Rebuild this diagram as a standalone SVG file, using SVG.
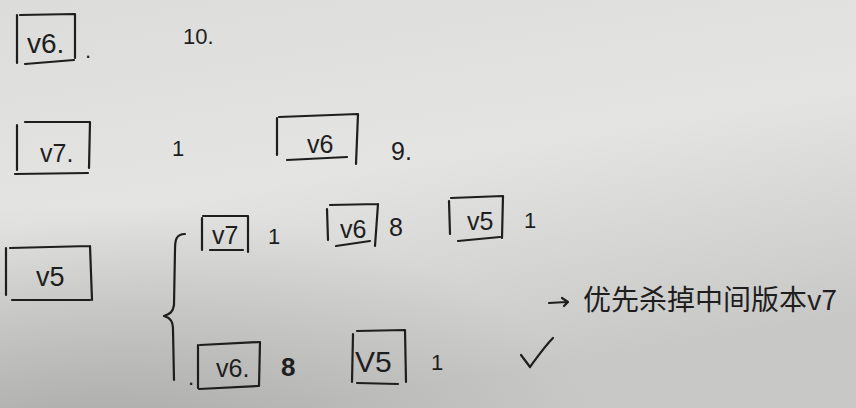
<svg xmlns="http://www.w3.org/2000/svg" width="856" height="408" viewBox="0 0 856 408">
<defs>
<linearGradient id="bg" x1="0" y1="0" x2="0.35" y2="1">
<stop offset="0" stop-color="#dcdcda"/>
<stop offset="0.5" stop-color="#e4e4e2"/>
<stop offset="1" stop-color="#c8c8c6"/>
</linearGradient>
<radialGradient id="shade" cx="0.1" cy="1.1" r="0.6">
<stop offset="0" stop-color="#8a8a88" stop-opacity="0.5"/>
<stop offset="1" stop-color="#8a8a88" stop-opacity="0"/>
</radialGradient>
</defs>
<style>
.ink{fill:none;stroke:#1e1e1e;stroke-width:2.2;stroke-linecap:round;stroke-linejoin:round}
.t{font-family:"Liberation Sans","Noto Sans CJK SC",sans-serif;fill:#1e1e1e}
.lbl{font-size:25px}
.num{font-size:22px}
.cn{font-family:"Noto Sans CJK SC",sans-serif;font-size:28px;fill:#1e1e1e}
</style>
<rect width="856" height="408" fill="url(#bg)"/>
<rect width="856" height="408" fill="url(#shade)"/>

<g id="node-v6-top">
<path class="ink" d="M17 15 L17 63 M20 15 L75 14 M75 14 L75 58 M25 64 L74 60"/>
<text class="t" x="27" y="53" style="font-size:28px">v6.</text>
<text class="t num" x="85" y="58">.</text>
<text class="t num" x="183" y="44">10.</text>
</g>

<g id="node-v7">
<path class="ink" d="M17 125 L17 170 M25 122 L90 122 M90 122 L89 168 M15 174 L88 173"/>
<text class="t lbl" x="40" y="162">v7.</text>
<text class="t num" x="172" y="156">1</text>
</g>

<g id="node-v6-mid">
<path class="ink" d="M277 118 L277 155 M279 117 L358 114 M358 114 L356 164 M287 160 L347 157"/>
<text class="t lbl" x="307" y="153">v6</text>
<text class="t lbl" x="391" y="160">9.</text>
</g>

<g id="node-v5">
<path class="ink" d="M6 248 L6 295 M10 248 L90 246 M90 246 L92 300 M12 300 L90 300"/>
<text class="t" x="36" y="286" style="font-size:27px">v5</text>
</g>

<g id="node-v7-sub">
<path class="ink" d="M202 218 L202 250 M203 216 L248 216 M248 216 L248 252 M210 250 L243 250"/>
<text class="t lbl" x="212" y="244">v7</text>
<text class="t num" x="268" y="244">1</text>
</g>

<g id="node-v6-sub">
<path class="ink" d="M327 209 L328 240 M330 205 L378 204 M378 204 L375 246 M336 246 L370 241"/>
<text class="t lbl" x="340" y="238">v6</text>
<text class="t lbl" x="389" y="236">8</text>
</g>

<g id="node-v5-sub">
<path class="ink" d="M449 201 L450 234 M451 198 L503 196 M503 196 L502 238 M458 241 L500 237"/>
<text class="t lbl" x="467" y="230">v5</text>
<text class="t num" x="524" y="228">1</text>
</g>

<g id="node-v6-bot">
<path class="ink" d="M198 345 L198 388 M200 345 L260 342 M260 342 L259 386 M199 389 L258 386"/>
<text class="t lbl" x="216" y="377">v6.</text>
<text class="t num" x="188" y="385">.</text>
<text class="t" x="281" y="376" style="font-size:26px;font-weight:bold">8</text>
</g>

<g id="node-v5-bot">
<path class="ink" d="M353 334 L352 382 M357 331 L405 330 M405 330 L406 382 M357 383 L398 384"/>
<text class="t" x="355" y="372" style="font-size:30px">V5</text>
<text class="t num" x="431" y="370">1</text>
</g>

<g id="node-note">
<text class="cn" x="583" y="310">优先杀掉中间版本v7</text>
</g>

<g id="connectors">
<path class="ink" d="M185 234 C176 234 175 240 175 250 L174 305 C173 312 170 314 164 316 C171 318 173 322 173 330 L174 380"/>
<path class="ink" d="M549 303 L566 302 M562 298 L568 302 L564 306"/>
<path class="ink" d="M521 355 L530 367 C538 356 545 346 553 338"/>
</g>
</svg>
